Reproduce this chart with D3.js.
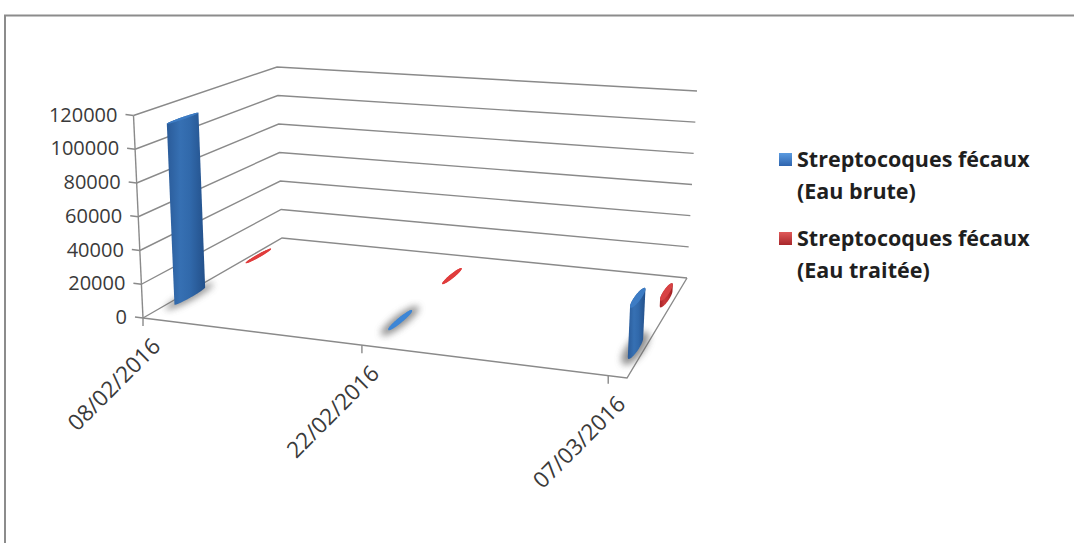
<!DOCTYPE html>
<html>
<head>
<meta charset="utf-8">
<script src="https://cdn.jsdelivr.net/npm/d3@7"></script>
<style>
  html, body { margin: 0; padding: 0; background: #ffffff; }
  svg { display: block; }
</style>
</head>
<body>
<svg id="chart" width="1074" height="543"></svg>
<script>
// ---- data ----
const categories = ["08/02/2016", "22/02/2016", "07/03/2016"];
const seriesLabels = [
  ["Streptocoques fécaux", "(Eau brute)"],
  ["Streptocoques fécaux", "(Eau traitée)"]
];
const brute = [110000, 400, 28000];
const traitee = [150, 100, 4000];
const valueTicks = [0, 20000, 40000, 60000, 80000, 100000, 120000];

// ---- 3D box layout: screen corners of the floor and of the top plane ----
// order: (u,v) = (0,0) front-left, (1,0) front-right, (1,1) back-right, (0,1) back-left
const floorQuad = [[143, 318], [627, 378], [687, 278], [282, 238]];
const topQuad = [[133.5, 115.5], [637, 151], [697, 91], [277, 67]];

function squareToQuad(q) {
  const [[x0, y0], [x1, y1], [x2, y2], [x3, y3]] = q;
  const dx1 = x1 - x2, dx2 = x3 - x2, dx3 = x0 - x1 + x2 - x3;
  const dy1 = y1 - y2, dy2 = y3 - y2, dy3 = y0 - y1 + y2 - y3;
  const den = dx1 * dy2 - dx2 * dy1;
  const g = (dx3 * dy2 - dx2 * dy3) / den;
  const h = (dx1 * dy3 - dx3 * dy1) / den;
  const a = x1 - x0 + g * x1, b = x3 - x0 + h * x3, c = x0;
  const d = y1 - y0 + g * y1, e = y3 - y0 + h * y3, f = y0;
  return (u, v) => {
    const w = g * u + h * v + 1;
    return [(a * u + b * v + c) / w, (d * u + e * v + f) / w];
  };
}
const floorMap = squareToQuad(floorQuad);
const topMap = squareToQuad(topQuad);
function project(u, v, t) {
  const F = floorMap(u, v), T = topMap(u, v);
  return [F[0] + (T[0] - F[0]) * t, F[1] + (T[1] - F[1]) * t];
}

// ---- scales ----
const parseDate = d3.timeParse("%d/%m/%Y");
const dates = categories.map(parseDate);
const DAY = 864e5;
const x = d3.scaleTime()
  .domain([dates[0], d3.timeDay.offset(dates[dates.length - 1], 1)])
  .range([0, 1]);
const z = d3.scaleBand().domain([0, 1]).range([0, 1]);
const y = d3.scaleLinear().domain([0, 120000]).range([0, 1]);

const svg = d3.select("#chart");
const defs = svg.append("defs");

svg.append("rect").attr("width", 1074).attr("height", 543).attr("fill", "#ffffff");

// chart area frame
svg.append("path")
  .attr("d", "M5,543V15.5H1074")
  .attr("fill", "none").attr("stroke", "#8c8c8c").attr("stroke-width", 2);

const line = d3.line();
const closed = d3.line().curve(d3.curveLinearClosed);
const gridColor = "#8a8a8a";
const labelFont = "'Open Sans', sans-serif";

// walls: gridlines on the left and back walls
const grid = svg.append("g").attr("fill", "none").attr("stroke", gridColor).attr("stroke-width", 1.4);
valueTicks.forEach(v => {
  const t = y(v);
  grid.append("path").attr("d", line([project(0, 0, t), project(0, 1, t), project(1, 1, t)]));
});
// floor front and right edges
grid.append("path").attr("d", line([project(0, 0, 0), project(1, 0, 0), project(1, 1, 0)]));

// value axis
const axis = svg.append("g").attr("stroke", gridColor).attr("stroke-width", 1.4).attr("fill", "none");
axis.append("path").attr("d", line([project(0, 0, 0), project(0, 0, 1)]));
valueTicks.forEach(v => {
  const p = project(0, 0, y(v));
  axis.append("path").attr("d", line([p, [p[0] - 8, p[1] - 1]]));
});
svg.append("g").selectAll("text").data(valueTicks).join("text")
  .attr("x", d => project(0, 0, y(d))[0] - 16)
  .attr("y", d => project(0, 0, y(d))[1] - 1)
  .attr("dy", "0.36em")
  .attr("text-anchor", "end")
  .attr("font-family", labelFont)
  .attr("font-size", 20)
  .attr("fill", "#3a3a3a")
  .text(d => d);

// category axis ticks and labels
dates.forEach((d, i) => {
  const p = project(x(d), 0, 0);
  axis.append("path").attr("d", line([p, [p[0], p[1] + 8]]));
  svg.append("text")
    .attr("transform", `translate(${p[0] + 13},${p[1] + 24}) rotate(-45)`)
    .attr("dy", "0.36em")
    .attr("text-anchor", "end")
    .attr("font-family", labelFont)
    .attr("font-size", 22.5)
    .attr("fill", "#3a3a3a")
    .text(categories[i]);
});

// ---- cylinder styles ----
const palettes = [
  { id: "gBlue", stops: ["#2a5b99", "#3670b3", "#3169ab", "#23508a"], cap: "#3d7cc4", flat: "#3d86d6" },
  { id: "gRed", stops: ["#a82225", "#c8393b", "#c13033", "#9a1c1f"], cap: "#d84244", flat: "#e03c3c" }
];
palettes.forEach(p => {
  const lg = defs.append("linearGradient").attr("id", p.id)
    .attr("x1", 0).attr("y1", 0).attr("x2", 1).attr("y2", 0);
  [0, 0.35, 0.6, 1].forEach((o, k) => lg.append("stop").attr("offset", o).attr("stop-color", p.stops[k]));
});
defs.append("filter").attr("id", "soft").attr("x", "-100%").attr("y", "-100%").attr("width", "300%").attr("height", "300%")
  .append("feGaussianBlur").attr("stdDeviation", 3.5);

const ru = (x(new Date(+dates[0] + 0.2 * DAY)) - x(dates[0]));
const rv = z.bandwidth() * 0.2;

function ring(uc, vc, a, b, t, n = 90) {
  return d3.range(n).map(k => {
    const ang = 2 * Math.PI * k / n;
    return project(uc + a * Math.cos(ang), vc + b * Math.sin(ang), t);
  });
}

function cylinder(g, uc, vc, value, pal, shadow) {
  const t = y(value);
  if (shadow) {
    g.append("path").attr("d", closed(ring(uc, vc, ru * 2.6, rv * 1.5, 0)))
      .attr("fill", "#5e5e5e").attr("opacity", 0.7).attr("filter", "url(#soft)");
  }
  const bottom = ring(uc, vc, ru, rv, 0);
  const top = ring(uc, vc, ru, rv, t);
  const hull = d3.polygonHull(bottom.concat(top));
  const tall = (bottom[0][1] - top[0][1]) > 3;
  g.append("path").attr("d", closed(hull)).attr("fill", tall ? `url(#${pal.id})` : pal.flat);
  g.append("path").attr("d", closed(top)).attr("fill", tall ? pal.cap : pal.flat);
}

// back row (treated water) first, then front row (raw water)
const rows = [
  { values: traitee, row: 1, pal: palettes[1], shadow: false },
  { values: brute, row: 0, pal: palettes[0], shadow: true }
];
rows.forEach(r => {
  const g = svg.append("g");
  r.values.forEach((val, i) => {
    const uc = x(new Date(+dates[i] + 0.5 * DAY));
    const vc = z(r.row) + z.bandwidth() / 2;
    cylinder(g, uc, vc, val, r.pal, r.shadow);
  });
});

// ---- legend ----
const legend = svg.append("g").attr("font-family", labelFont)
  .attr("font-weight", "bold").attr("font-size", 21.5).attr("fill", "#1f1f1f");
const markerGrads = [["mBlue", "#5b9be0", "#2e64ae"], ["mRed", "#e05a5a", "#a8262a"]];
markerGrads.forEach(([id, c0, c1]) => {
  const lg = defs.append("linearGradient").attr("id", id).attr("x1", 0).attr("y1", 0).attr("x2", 0).attr("y2", 1);
  lg.append("stop").attr("offset", 0).attr("stop-color", c0);
  lg.append("stop").attr("offset", 1).attr("stop-color", c1);
});
seriesLabels.forEach((lines, k) => {
  const y0 = 167 + k * 79;
  legend.append("rect").attr("x", 779).attr("y", y0 - 14).attr("width", 13).attr("height", 13)
    .attr("fill", `url(#${markerGrads[k][0]})`);
  lines.forEach((txt, j) => {
    legend.append("text").attr("x", 797).attr("y", y0 + j * 32).text(txt);
  });
});
</script>
</body>
</html>
